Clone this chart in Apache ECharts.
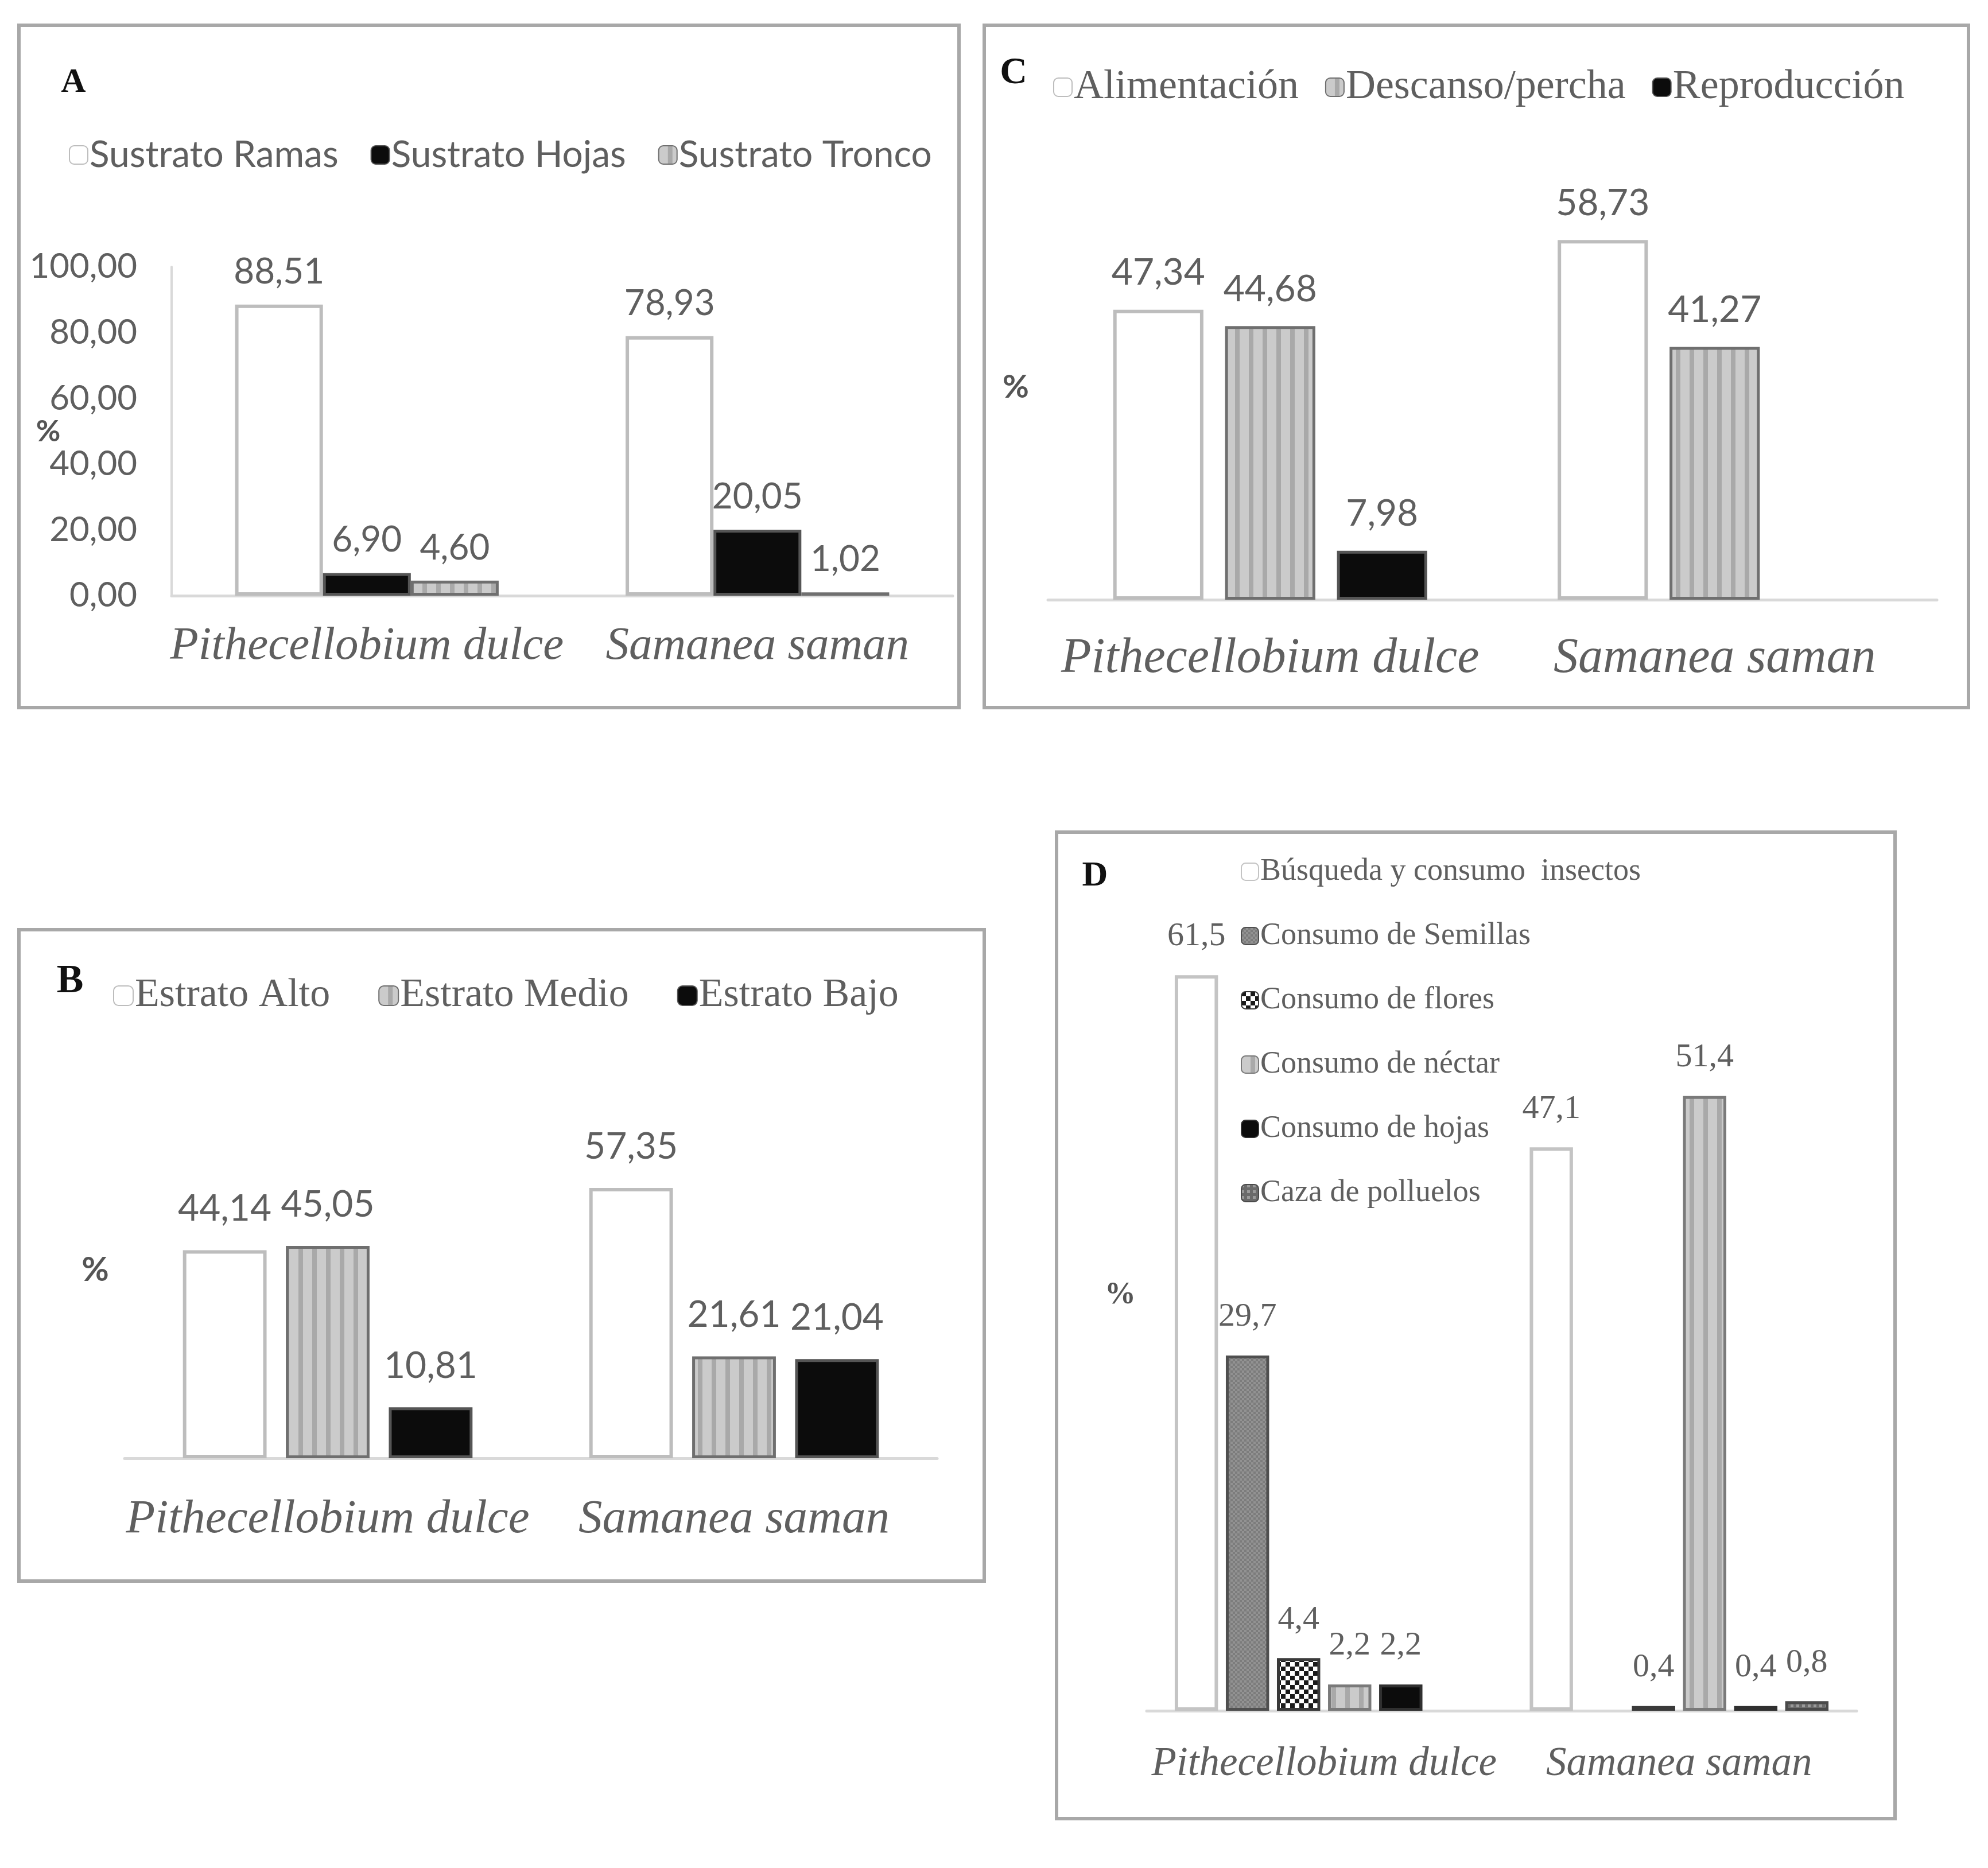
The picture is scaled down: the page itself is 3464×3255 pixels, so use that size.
<!DOCTYPE html>
<html>
<head>
<meta charset="utf-8">
<script src="https://cdn.jsdelivr.net/npm/echarts@6/dist/echarts.min.js"></script>
<style>
html,body{margin:0;padding:0;background:#fff;}
#chart{width:3464px;height:3255px;}
</style>
</head>
<body>
<div id="chart"></div>
<script>
// ---------- DATA ----------
const categories = ['Pithecellobium dulce', 'Samanea saman'];

// Panel A
const legendA = ['Sustrato Ramas', 'Sustrato Hojas', 'Sustrato Tronco'];
const aRamas  = [88.51, 78.93];
const aHojas  = [6.90, 20.05];
const aTronco = [4.60, 1.02];

// Panel B
const legendB = ['Estrato Alto', 'Estrato Medio', 'Estrato Bajo'];
const bAlto  = [44.14, 57.35];
const bMedio = [45.05, 21.61];
const bBajo  = [10.81, 21.04];

// Panel C
const legendC = ['Alimentación', 'Descanso/percha', 'Reproducción'];
const cAlim   = [47.34, 58.73];
const cDesc   = [44.68, 41.27];
const cRepro  = [7.98, null];

// Panel D
const legendD = ['Búsqueda y consumo  insectos', 'Consumo de Semillas', 'Consumo de flores',
                 'Consumo de néctar', 'Consumo de hojas', 'Caza de polluelos'];
const dInsectos = [61.5, 47.1];
const dSemillas = [29.7, null];
const dFlores   = [4.4, 0.4];
const dNectar   = [2.2, 51.4];
const dHojas    = [2.2, 0.4];
const dCaza     = [null, 0.8];

// ---------- STYLES ----------
const SANS = 'Lato, "Liberation Sans", sans-serif';
const SERIF = '"Liberation Serif", "DejaVu Serif", serif';
const TXT = '#5f5f5f';
const AXIS = '#d9d9d9';

function pattern(w, h, draw) {
  const c = document.createElement('canvas');
  c.width = w; c.height = h;
  const g = c.getContext('2d');
  draw(g, w, h);
  return { image: c, repeat: 'repeat' };
}
const stripes = pattern(24, 8, (g, w, h) => {
  g.fillStyle = '#cbcbcb'; g.fillRect(0, 0, w, h);
  g.fillStyle = '#a9a9a9'; g.fillRect(16, 0, 8, h);
});
const checker = pattern(16, 16, (g) => {
  g.fillStyle = '#ffffff'; g.fillRect(0, 0, 16, 16);
  g.fillStyle = '#1a1a1a'; g.fillRect(0, 0, 8, 8); g.fillRect(8, 8, 8, 8);
});
const seeds = pattern(8, 8, (g) => {
  g.fillStyle = '#7c7c7c'; g.fillRect(0, 0, 8, 8);
  g.fillStyle = '#929292'; g.fillRect(0, 0, 4, 4); g.fillRect(4, 4, 4, 4);
});
const chicks = pattern(10, 10, (g) => {
  g.fillStyle = '#6a6a6a'; g.fillRect(0, 0, 10, 10);
  g.fillStyle = '#9a9a9a'; g.fillRect(0, 0, 5, 5);
});

const WHITE = { color: '#ffffff', borderColor: '#bdbdbd', borderWidth: 6 };
const BLACK = { color: '#0c0c0c', borderColor: '#555555', borderWidth: 5 };
const STRIPE = { color: stripes, borderColor: '#6f6f6f', borderWidth: 5 };

function fmt(dec) {
  return p => (p.value == null ? '' : Number(p.value).toFixed(dec).replace('.', ','));
}

function bars(names, datas, styles, idx, opt) {
  return names.map((n, i) => ({
    type: 'bar', name: n, data: datas[i], xAxisIndex: idx, yAxisIndex: idx,
    barWidth: opt.bw, barGap: opt.gap, itemStyle: styles[i],
    label: { show: true, position: 'top', distance: opt.ld, formatter: fmt(opt.dec),
             color: TXT, fontFamily: opt.lf, fontSize: opt.ls }
  }));
}

// ---------- GRIDS (panel layout) ----------
const grids = [
  { left: 299,  top: 465,  width: 1361, height: 573 },   // A
  { left: 1826, top: 298,  width: 1549, height: 747 },   // C
  { left: 217,  top: 1966, width: 1416, height: 575 },   // B
  { left: 1998, top: 1522, width: 1237, height: 1459 }   // D
];

function xAx(idx, size, margin) {
  return {
    type: 'category', gridIndex: idx, data: categories,
    axisLine: { lineStyle: { color: AXIS, width: 5 } }, axisTick: { show: false },
    axisLabel: { interval: 0, color: TXT, fontFamily: SERIF, fontStyle: 'italic', fontSize: size, margin: margin }
  };
}
function yHidden(idx, max) {
  return { type: 'value', gridIndex: idx, min: 0, max: max, show: false, splitLine: { show: false } };
}

const series = [].concat(
  bars(legendA, [aRamas, aHojas, aTronco], [WHITE, BLACK, STRIPE], 0,
       { bw: '22.5%', gap: '0%', ld: 26, dec: 2, lf: SANS, ls: 62 }),
  bars(legendC, [cAlim, cDesc, cRepro], [WHITE, STRIPE, BLACK], 1,
       { bw: '20.3%', gap: '24%', ld: 32, dec: 2, lf: SANS, ls: 64 }),
  bars(legendB, [bAlto, bMedio, bBajo], [WHITE, STRIPE, BLACK], 2,
       { bw: '20.6%', gap: '23%', ld: 40, dec: 2, lf: SANS, ls: 64 }),
  bars(legendD, [dInsectos, dSemillas, dFlores, dNectar, dHojas, dCaza],
       [ { color: '#ffffff', borderColor: '#c4c4c4', borderWidth: 6 },
         { color: seeds, borderColor: '#4f4f4f', borderWidth: 5 },
         { color: checker, borderColor: '#3a3a3a', borderWidth: 5 },
         { color: stripes, borderColor: '#7a7a7a', borderWidth: 5 },
         { color: '#0c0c0c', borderColor: '#303030', borderWidth: 5 },
         { color: chicks, borderColor: '#4a4a4a', borderWidth: 5 } ], 3,
       { bw: '12.2%', gap: '18%', ld: 38, dec: 1, lf: SERIF, ls: 58 })
);

function legend(names, left, top, font, size, gap, icon, extra) {
  return Object.assign({
    data: names, left: left, top: top, padding: 0, itemGap: gap,
    itemWidth: icon, itemHeight: icon, selectedMode: false,
    textStyle: { color: TXT, fontFamily: font, fontSize: size, padding: [0, 0, 0, -2] }
  }, extra || {});
}

function frame(x1, y1, x2, y2) {
  return { type: 'rect', shape: { x: x1, y: y1, width: x2 - x1, height: y2 - y1 },
           style: { fill: 'none', stroke: '#a8a8a8', lineWidth: 6 }, silent: true };
}
function txt(x, y, s, size, font, color, weight) {
  return { type: 'text', x: x, y: y, silent: true,
           style: { text: s, fontSize: size, fontFamily: font, fill: color, fontWeight: weight || 'normal',
                    align: 'center', verticalAlign: 'middle' } };
}

const option = {
  backgroundColor: '#ffffff',
  animation: false,
  grid: grids,
  xAxis: [ xAx(0, 81, 48), xAx(1, 86, 60), xAx(2, 83, 66), xAx(3, 71, 58) ],
  yAxis: [
    { type: 'value', gridIndex: 0, min: 0, max: 100, interval: 20,
      axisLine: { show: true, lineStyle: { color: AXIS, width: 4 } }, axisTick: { show: false },
      splitLine: { show: false },
      axisLabel: { color: TXT, fontFamily: SANS, fontSize: 60, margin: 60,
                   formatter: v => v.toFixed(2).replace('.', ',') } },
    yHidden(1, 70), yHidden(2, 70), yHidden(3, 70)
  ],
  legend: [
    legend(legendA, 120, 238, SANS, 64, 56, 32),
    legend(legendC, 1835, 116, SERIF, 72, 46, 32),
    legend(legendB, 197, 1700, SERIF, 70, 84, 34),
    legend(legendD, 2162, 1492, SERIF, 54, 58, 30,
           { orient: 'vertical', textStyle: { color: TXT, fontFamily: SERIF, fontSize: 54, lineHeight: 54, padding: [0, 0, 0, -2] } })
  ],
  graphic: [
    frame(33, 44, 1671, 1233),
    frame(1715, 44, 3430, 1233),
    frame(33, 1620, 1715, 2755),
    frame(1841, 1450, 3302, 3169),
    txt(128, 144, 'A', 60, SERIF, '#111', 'bold'),
    txt(1766, 128, 'C', 66, SERIF, '#111', 'bold'),
    txt(122, 1711, 'B', 70, SERIF, '#111', 'bold'),
    txt(1908, 1527, 'D', 62, SERIF, '#111', 'bold'),
    txt(84, 752, '%', 52, SANS, '#555', 'bold'),
    txt(1770, 675, '%', 56, SANS, '#555', 'bold'),
    txt(166, 2213, '%', 58, SANS, '#555', 'bold'),
    txt(1952, 2257, '%', 54, SERIF, '#555', 'bold')
  ],
  series: series
};

const chart = echarts.init(document.getElementById('chart'), null, { renderer: 'canvas' });
chart.setOption(option);
</script>
</body>
</html>
